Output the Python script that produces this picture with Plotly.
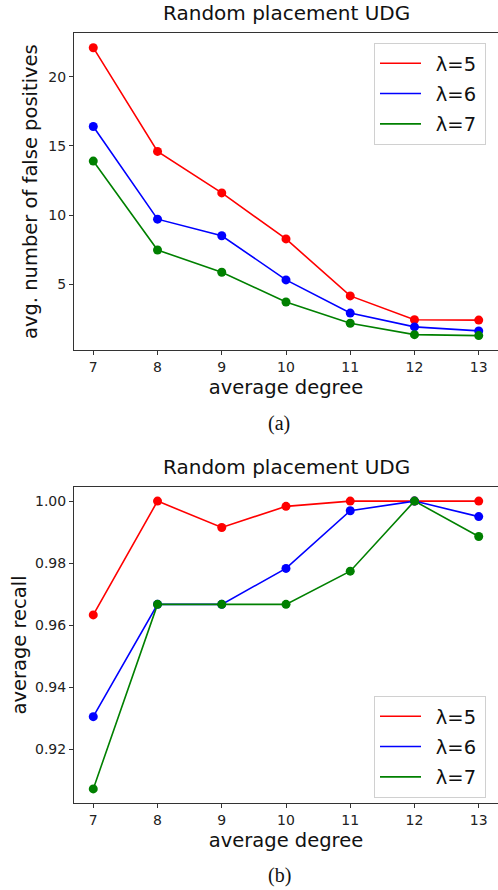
import plotly.graph_objects as go

degrees = [7, 8, 9, 10, 11, 12, 13]
series_names = ["λ=5", "λ=6", "λ=7"]
colors = ["#ff0000", "#0000ff", "#008000"]

fp_l5 = [22.1, 14.6, 11.6, 8.27, 4.15, 2.43, 2.4]
fp_l6 = [16.4, 9.7, 8.5, 5.31, 2.91, 1.91, 1.62]
fp_l7 = [13.9, 7.47, 5.86, 3.71, 2.17, 1.35, 1.28]

rec_l5 = [0.9633, 1.0, 0.9915, 0.9983, 1.0, 1.0, 1.0]
rec_l6 = [0.9305, 0.9667, 0.9667, 0.9783, 0.9969, 1.0, 0.995]
rec_l7 = [0.9072, 0.9667, 0.9667, 0.9667, 0.9774, 1.0, 0.9886]

fp_ticks = [5, 10, 15, 20]
rec_ticks = [0.92, 0.94, 0.96, 0.98, 1.00]

W, H = 498, 890
FONT = "DejaVu Sans"

fig = go.Figure()

def add_series(vals_list, xa, ya, legend):
    for name, col, vals in zip(series_names, colors, vals_list):
        fig.add_trace(go.Scatter(
            x=degrees, y=vals, mode="lines", name="\u2002" + name + "\u2009",
            line=dict(color=col, width=1.6), xaxis=xa, yaxis=ya,
            legend=legend, legendgroup=legend + name, hoverinfo="skip"))
        fig.add_trace(go.Scatter(
            x=degrees, y=vals, mode="markers", name=name, showlegend=False,
            marker=dict(color=col, size=9), xaxis=xa, yaxis=ya,
            legend=legend, legendgroup=legend + name))

add_series([fp_l5, fp_l6, fp_l7], "x", "y", "legend")
add_series([rec_l5, rec_l6, rec_l7], "x2", "y2", "legend2")

def pad_range(vals_lists):
    allv = [v for vs in vals_lists for v in vs]
    lo, hi = min(allv), max(allv)
    m = (hi - lo) * 0.05
    return [lo - m, hi + m]

xrange_ = [degrees[0] - 0.3, degrees[-1] + 0.3]

axis_common = dict(
    showgrid=False, zeroline=False, showline=True, linecolor="#333333",
    linewidth=1, ticks="outside", ticklen=4, tickcolor="#333333",
    tickfont=dict(family=FONT, size=14, color="#222222"), automargin=False,
)

top_dom = [1 - 350 / H, 1 - 33.3 / H]
bot_dom = [1 - 803.3 / H, 1 - 486.7 / H]

legend_common = dict(
    font=dict(family=FONT, size=19.5, color="#111111"),
    bgcolor="white", bordercolor="#d0d0d0", borderwidth=1,
    xanchor="left", yanchor="top", tracegroupgap=2, itemwidth=41,
)

fig.update_layout(
    width=W, height=H,
    margin=dict(l=74, r=0, t=0, b=0, autoexpand=False),
    plot_bgcolor="white", paper_bgcolor="white",
    font=dict(family=FONT, color="#111111"),
    xaxis=dict(axis_common, domain=[0, 1], range=xrange_, anchor="y",
               tickvals=degrees, mirror=True,
               title=dict(text="average degree", font=dict(size=19.5), standoff=6)),
    yaxis=dict(axis_common, domain=top_dom, range=pad_range([fp_l5, fp_l6, fp_l7]),
               anchor="x", tickvals=fp_ticks,
               title=dict(text="avg. number of false positives", font=dict(size=19.5), standoff=5)),
    xaxis2=dict(axis_common, domain=[0, 1], range=xrange_, anchor="y2",
                tickvals=degrees, mirror=True,
                title=dict(text="average degree", font=dict(size=19.5), standoff=6)),
    yaxis2=dict(axis_common, domain=bot_dom, range=pad_range([rec_l5, rec_l6, rec_l7]),
                anchor="x2", tickvals=rec_ticks, ticktext=[f"{t:.2f}" for t in rec_ticks],
                title=dict(text="average recall", font=dict(size=19.5), standoff=3)),
    legend=dict(legend_common, x=(374 - 74) / 424, y=1 - 43 / H),
    legend2=dict(legend_common, x=(374 - 74) / 424, y=1 - 696 / H),
    showlegend=True,
)

# titles and captions
for ytop, caption, ycap in [(13, "(a)", 423), (467, "(b)", 875)]:
    fig.add_annotation(text="Random placement UDG", xref="paper", yref="paper",
                       x=0.5, y=1 - ytop / H, xanchor="center", yanchor="middle",
                       showarrow=False, font=dict(family=FONT, size=20, color="#111111"))
    fig.add_annotation(text=caption, xref="paper", yref="paper",
                       x=(279 - 74) / 424, y=1 - ycap / H, xanchor="center", yanchor="middle",
                       showarrow=False, font=dict(family="Liberation Serif", size=20, color="#111111"))

fig.write_html("out.html", config={"displayModeBar": False},
               post_script="document.body.style.margin='0';")
